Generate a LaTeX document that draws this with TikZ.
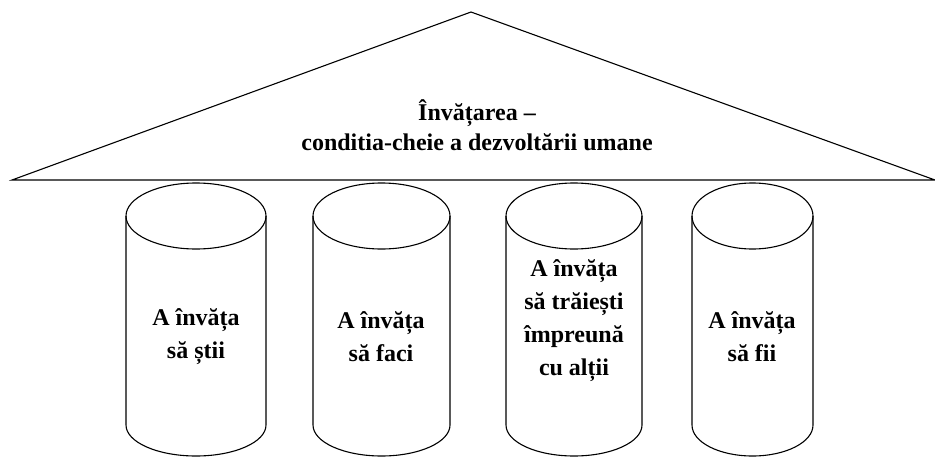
\documentclass[tikz,border=0pt]{standalone}
\usepackage{fontspec}
\setmainfont{Liberation Serif}
\usetikzlibrary{positioning}
\tikzset{pillar/.style={line width=1.1pt},
         roof/.style={line width=1.1pt, line join=miter},
         label text/.style={font=\bfseries\fontsize{24}{33}\selectfont, align=center, inner sep=0pt}}

\begin{document}
\begin{tikzpicture}[x=1pt,y=-1pt]
    \useasboundingbox (0,0) rectangle (935,458);
    % the roof
    \draw[roof] (12,180)--(471,12)--(935,180)--cycle;
    \node[label text, font=\bfseries\fontsize{24}{30}\selectfont] (roof) at (477,125)
      {Învățarea --\\conditia-cheie a dezvoltării umane};

    % the four columns
    \foreach \xl/\xr in {126/266, 313/450, 506/642, 692/813}
    {
      \pgfmathsetmacro{\rx}{(\xr-\xl)/2}
      \pgfmathsetmacro{\cx}{(\xr+\xl)/2}
      \draw[pillar] (\xl,216)--(\xl,425) arc [start angle=180, end angle=0, x radius=\rx, y radius=31]--(\xr,216);
      \draw[pillar] (\cx,216) ellipse [x radius=\rx, y radius=33];
    }

    \node[label text] (know) at (196,337) {A învăța\\să știi};
    \node[label text] (do) at (381,337) {A învăța\\să faci};
    \node[label text] (live) at (574,321) {A învăța\\să trăiești\\împreună\\cu alții};
    \node[label text] (be) at (752,337) {A învăța\\să fii};
  \end{tikzpicture}
\end{document}
